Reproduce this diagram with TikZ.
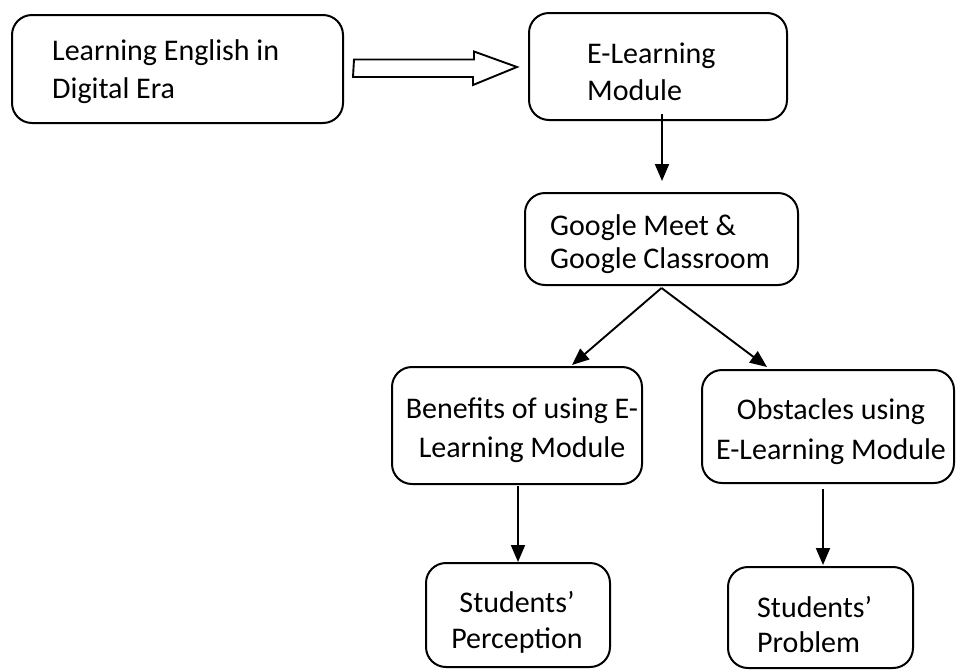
\documentclass[tikz,border=0pt]{standalone}
\usepackage{fontspec}
\setmainfont{Carlito}
\usetikzlibrary{arrows.meta}
\tikzset{
  boxnode/.style={draw, line width=2pt, rounded corners=20pt, rectangle, inner sep=0pt},
  txt/.style={inner sep=0pt, font=\fontsize{30}{37}\selectfont},
  arr/.style={line width=1.9pt, -{Triangle[width=14pt,length=17pt]}},
  blockarrow/.style={draw, line width=1.9pt, fill=white, line join=miter}
}
\begin{document}
\begin{tikzpicture}[x=1pt,y=-1pt]
\useasboundingbox (0,0) rectangle (956,670);
% boxes
\node[boxnode, minimum width=331pt, minimum height=108pt] (b1) at (177.5,69) {};
\node[boxnode, minimum width=258pt, minimum height=107pt] (b2) at (658,66.5) {};
\node[boxnode, minimum width=273pt, minimum height=92pt] (g) at (661.5,239) {};
\node[boxnode, minimum width=250pt, minimum height=117pt] (ben) at (517,425.5) {};
\node[boxnode, minimum width=252pt, minimum height=113pt] (obs) at (828,426.5) {};
\node[boxnode, minimum width=184pt, minimum height=104pt] (per) at (518,615) {};
\node[boxnode, minimum width=185pt, minimum height=101pt] (prob) at (820.5,617.5) {};
% texts
\node[txt, anchor=base west] (t1a) at (52,60) {Learning English in};
\node[txt, anchor=base west] (t1b) at (52,98) {Digital Era};
\node[txt, anchor=base west] (t2a) at (587,63) {E-Learning};
\node[txt, anchor=base west] (t2b) at (587,100) {Module};
\node[txt, anchor=base west] (t3a) at (550,235) {Google Meet \&};
\node[txt, anchor=base west] (t3b) at (550,268) {Google Classroom};
\node[txt, anchor=base] (t4a) at (522,418) {Benefits of using E-};
\node[txt, anchor=base] (t4b) at (522,457) {Learning Module};
\node[txt, anchor=base] (t5a) at (831,419) {Obstacles using};
\node[txt, anchor=base] (t5b) at (831,459) {E-Learning Module};
\node[txt, anchor=base] (t6a) at (517,612) {Students’};
\node[txt, anchor=base] (t6b) at (517,648) {Perception};
\node[txt, anchor=base west] (t7a) at (757,617) {Students’};
\node[txt, anchor=base west] (t7b) at (757,652) {Problem};
% block arrow
\coordinate (ba) at ([xshift=10pt]b1.east);
\draw[blockarrow] ([yshift=9.5pt]ba |- b1.east) -- ++(120,0) -- ++(0,-8) -- (517,67) -- (473,85) -- ++(0,-8) -- ++(-120,0) -- cycle;
% connectors
\draw[arr] ([xshift=4pt,yshift=7pt]b2.south) -- ([xshift=0.5pt,yshift=11pt]g.north);
\draw[arr] ([yshift=-2pt]g.south) -- ([xshift=55pt,yshift=1pt]ben.north);
\draw[arr] ([yshift=-2pt]g.south) -- ([xshift=-61pt,yshift=2pt]obs.north);
\draw[arr] ([yshift=-1pt]ben.south -| per.north) -- (per.north);
\draw[arr] ([xshift=2.5pt,yshift=-5pt]prob.north |- obs.south) -- ([xshift=2.5pt,yshift=1pt]prob.north);
\end{tikzpicture}
\end{document}
